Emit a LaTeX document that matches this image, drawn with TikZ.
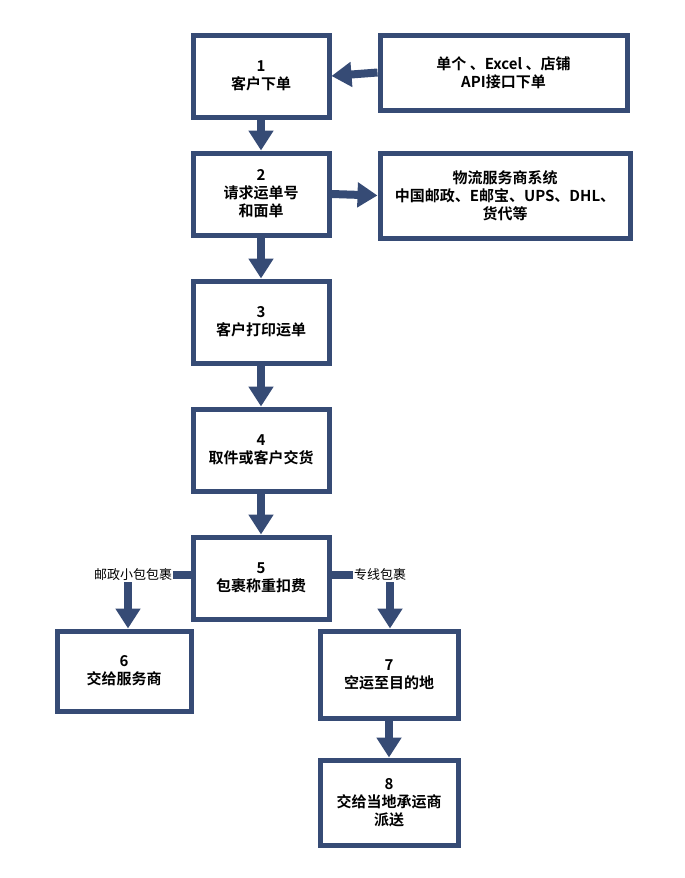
\documentclass[tikz,border=0pt]{standalone}
\usepackage{fontspec}
\setmainfont{Noto Sans CJK SC}
\newfontfamily\boldcjk{Noto Sans CJK SC Bold}
\usetikzlibrary{arrows.meta}
\definecolor{navy}{HTML}{364B75}
\tikzset{
  box/.style={draw=navy,line width=5pt,fill=white,align=center,font=\boldcjk\fontsize{15}{18}\selectfont,inner sep=0pt},
  arr/.style={draw=navy,line width=8pt,-{Triangle[width=24pt,length=20pt]}},
  lbl/.style={fill=white,inner sep=1pt,font=\fontsize{13}{15}\selectfont}
}
\begin{document}
\begin{tikzpicture}[x=1pt,y=-1pt]
\useasboundingbox (0,0) rectangle (685,878);
\node[box,minimum width=136pt,minimum height=82pt] (n1) at (261,76) {1\\客户下单};
\node[box,minimum width=247pt,minimum height=75pt] (a) at (503.5,72.5) {单个 、Excel 、店铺\\API接口下单};
\node[box,minimum width=136pt,minimum height=82pt] (n2) at (261,194) {2\\请求运单号\\和面单};
\node[box,minimum width=250pt,minimum height=85pt] (b) at (505,195.5) {物流服务商系统\\中国邮政、E邮宝、UPS、DHL、\\货代等};
\node[box,minimum width=136pt,minimum height=82pt] (n3) at (261,322) {3\\客户打印运单};
\node[box,minimum width=136pt,minimum height=82pt] (n4) at (261,450) {4\\取件或客户交货};
\node[box,minimum width=136pt,minimum height=82pt] (n5) at (261,578) {5\\包裹称重扣费};
\node[box,minimum width=134pt,minimum height=80pt] (n6) at (124,671) {6\\交给服务商};
\node[box,minimum width=138pt,minimum height=87pt] (n7) at (389,674.5) {7\\空运至目的地};
\node[box,minimum width=138pt,minimum height=85pt] (n8) at (389,802.5) {8\\交给当地承运商\\派送};
\draw[arr] (a.west) -- (n1.east);
\draw[arr] (n1) -- (n2);
\draw[arr] (n2.east) -- (b.west);
\draw[arr] (n2) -- (n3);
\draw[arr] (n3) -- (n4);
\draw[arr] (n4) -- (n5);
\coordinate (l6) at (128,575);
\coordinate (l7) at (390,575);
\draw[arr] (n5.west |- l6) -- (l6) -- (n6.north -| l6);
\draw[arr] (n5.east |- l7) -- (l7) -- (n7.north -| l7);
\node[lbl] at (133,575) {邮政小包包裹};
\node[lbl] at (380,575) {专线包裹};
\draw[arr] (n7) -- (n8);
\end{tikzpicture}
\end{document}
